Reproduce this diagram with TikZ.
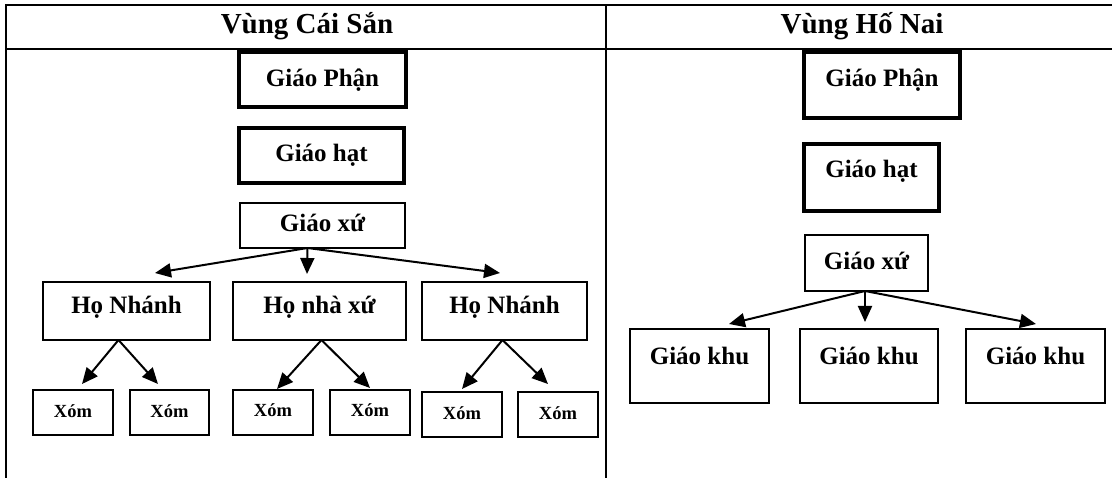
\documentclass[tikz,border=0pt]{standalone}
\usepackage{fontspec}
\setmainfont{Liberation Serif}
\usetikzlibrary{arrows.meta}
\begin{document}
\begin{tikzpicture}[x=1pt,y=-1pt,
  frame/.style={line width=2.5pt},
  box/.style={draw, line width=2pt, inner sep=0pt, outer sep=0pt, anchor=north west,
              font=\fontsize{25}{30}\selectfont\bfseries},
  heavybox/.style={box, line width=3.8pt},
  xombox/.style={box, font=\fontsize{18.5}{22}\selectfont\bfseries},
  head/.style={anchor=base, inner sep=0pt, font=\fontsize{29}{34}\selectfont\bfseries},
  arr/.style={line width=2pt, -{Triangle[length=16pt,width=14pt]}}
]
\useasboundingbox (0,0) rectangle (1112,478);

% table frame
\draw[frame] (6,478) -- (6,5) -- (1112,5);
\draw[frame] (6,49) -- (1112,49);
\draw[frame] (606,5) -- (606,478);

% column headings
\node[head] (hL) at (307,34) {Vùng Cái Sắn};
\node[head] (hR) at (862,34) {Vùng Hố Nai};

% ---- left column ----
\node[heavybox, minimum width=167pt, text height=35pt, text depth=20pt] (gp1) at (239,52) {Giáo Phận};
\node[heavybox, minimum width=165pt, text height=34pt, text depth=21pt] (gh1) at (239,128) {Giáo hạt};
\node[box, minimum width=165pt, text height=29pt, text depth=16pt] (gx1) at (240,203) {Giáo xứ};

\node[box, minimum width=167pt, text height=32pt, text depth=26pt] (hn1) at (43,282) {Họ Nhánh};
\node[box, minimum width=173pt, text height=32pt, text depth=26pt] (hx) at (233,282) {Họ nhà xứ};
\node[box, minimum width=165pt, text height=32pt, text depth=26pt] (hn2) at (422,282) {Họ Nhánh};

\node[xombox, minimum width=80pt, text height=28pt, text depth=17pt] (x1) at (33,390) {Xóm};
\node[xombox, minimum width=79pt, text height=28pt, text depth=17pt] (x2) at (130,390) {Xóm};
\node[xombox, minimum width=80pt, text height=27pt, text depth=18pt] (x3) at (233,390) {Xóm};
\node[xombox, minimum width=80pt, text height=27pt, text depth=18pt] (x4) at (330,390) {Xóm};
\node[xombox, minimum width=80pt, text height=28pt, text depth=17pt] (x5) at (422,392) {Xóm};
\node[xombox, minimum width=80pt, text height=28pt, text depth=17pt] (x6) at (518,392) {Xóm};

% arrow tips (left column)
\coordinate (a1) at (155,273);
\coordinate (a2) at (307,274);
\coordinate (a3) at (500,273);
\coordinate (b1) at (82,384);
\coordinate (b2) at (158,384);
\coordinate (b3) at (277,389);
\coordinate (b4) at (370,388);
\coordinate (b5) at (462,389);
\coordinate (b6) at (548,384);

\draw[arr] ([xshift=-15pt]gx1.south) -- (a1);
\draw[arr] ([xshift=-15pt]gx1.south) -- (a2);
\draw[arr] ([xshift=-15pt]gx1.south) -- (a3);
\draw[arr] ([xshift=-8pt]hn1.south) -- (b1);
\draw[arr] ([xshift=-8pt]hn1.south) -- (b2);
\draw[arr] ([xshift=2pt]hx.south) -- (b3);
\draw[arr] ([xshift=2pt]hx.south) -- (b4);
\draw[arr] ([xshift=-2pt]hn2.south) -- (b5);
\draw[arr] ([xshift=-2pt]hn2.south) -- (b6);

% ---- right column ----
\node[heavybox, minimum width=156pt, text height=35pt, text depth=31pt] (gp2) at (804,52) {Giáo Phận};
\node[heavybox, minimum width=135pt, text height=34pt, text depth=33pt] (gh2) at (804,144) {Giáo hạt};
\node[box, minimum width=123pt, text height=35pt, text depth=21pt] (gx2) at (805,235) {Giáo xứ};

\node[box, minimum width=139pt, text height=36pt, text depth=38pt] (k1) at (630,329) {Giáo khu};
\node[box, minimum width=138pt, text height=36pt, text depth=38pt] (k2) at (800,329) {Giáo khu};
\node[box, minimum width=139pt, text height=36pt, text depth=38pt] (k3) at (966,329) {Giáo khu};

\coordinate (c1) at (729,324);
\coordinate (c2) at (865,322);
\coordinate (c3) at (1036,324);

\draw[arr] ([xshift=-1.5pt]gx2.south) -- (c1);
\draw[arr] ([xshift=-1.5pt]gx2.south) -- (c2);
\draw[arr] ([xshift=-1.5pt]gx2.south) -- (c3);
\end{tikzpicture}
\end{document}
